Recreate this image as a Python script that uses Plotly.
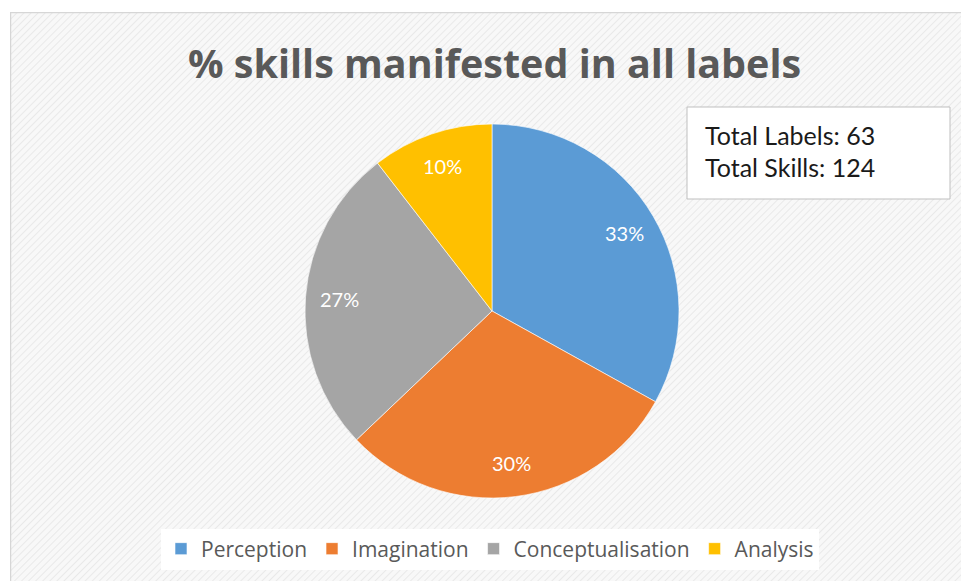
import base64
import math
import plotly.graph_objects as go

categories = ["Perception", "Imagination", "Conceptualisation", "Analysis"]
skill_counts = [41, 37, 33, 13]
colors = ["#5B9BD5", "#ED7D31", "#A5A5A5", "#FFC000"]
info_lines = ["Total Labels: 63", "Total Skills: 124"]
title_text = "% skills manifested in all labels"

W, H = 961, 581
ML, MT = 10, 12
PW, PH = W - ML, H - MT

# hatched chart-area background (decoration) as an inline SVG image
svg = f'''<svg xmlns="http://www.w3.org/2000/svg" width="{PW}" height="{PH}">
<defs><pattern id="p" width="5" height="5" patternUnits="userSpaceOnUse" patternTransform="rotate(45)">
<rect width="5" height="5" fill="#f8f8f8"/><line x1="0" y1="0" x2="0" y2="5" stroke="#e9e9e9" stroke-width="2"/></pattern></defs>
<rect width="{PW}" height="{PH}" fill="url(#p)"/>
<line x1="0" y1="0.5" x2="{PW}" y2="0.5" stroke="#d6d6d6" stroke-width="1.5"/>
<line x1="0.5" y1="0" x2="0.5" y2="{PH}" stroke="#d6d6d6" stroke-width="1.5"/>
</svg>'''
src = "data:image/svg+xml;base64," + base64.b64encode(svg.encode()).decode()

def fx(px):
    return (px - ML) / PW

def fy(py):
    return (H - py) / PH

cx, cy, r = 492, 311, 187

fig = go.Figure()
fig.add_trace(go.Pie(
    labels=categories,
    values=skill_counts,
    sort=False,
    direction="clockwise",
    rotation=0,
    marker=dict(colors=colors, line=dict(color="white", width=0.6)),
    textinfo="none",
    domain=dict(x=[fx(cx - r), fx(cx + r)], y=[fy(cy + r), fy(cy - r)]),
    hoverinfo="label+value+percent",
))

# percentage data labels placed along each slice's bisector (derived from values)
total = sum(skill_counts)
cum = 0
for v in skill_counts:
    mid = (cum + v / 2) / total * 2 * math.pi
    cum += v
    rr = 0.82 * r
    px = cx + rr * math.sin(mid)
    py = cy - rr * math.cos(mid)
    fig.add_annotation(text=f"{round(100 * v / total)}%", xref="paper", yref="paper",
                       x=fx(px), y=fy(py), xanchor="center", yanchor="middle",
                       showarrow=False, font=dict(family="Lato", size=20, color="white"))

fig.add_layout_image(dict(
    source=src, xref="paper", yref="paper", x=0, y=1, sizex=1, sizey=1,
    xanchor="left", yanchor="top", sizing="stretch", layer="below",
))

# text box
fig.add_shape(type="rect", xref="paper", yref="paper",
              x0=fx(687), x1=fx(950), y0=fy(199), y1=fy(107),
              line=dict(color="#bfbfbf", width=1), fillcolor="white", layer="above")
for i, line in enumerate(info_lines):
    fig.add_annotation(text=line, xref="paper", yref="paper",
                       x=fx(703), y=fy(135 + 32 * i), xanchor="left", yanchor="middle",
                       showarrow=False, font=dict(family="Lato", size=25, color="#1a1a1a"))

fig.add_annotation(text="<b>" + title_text + "</b>", xref="paper", yref="paper",
                   x=fx(494), y=fy(63), xanchor="center", yanchor="middle",
                   showarrow=False, font=dict(family="Open Sans", size=39.5, color="#595959"))

fig.update_layout(
    width=W, height=H,
    margin=dict(l=ML, r=0, t=MT, b=0),
    paper_bgcolor="white",
    plot_bgcolor="rgba(0,0,0,0)",
    showlegend=True,
    legend=dict(orientation="h", x=fx(490), y=fy(549), xanchor="center", yanchor="middle",
                bgcolor="white", borderwidth=0,
                font=dict(family="Open Sans", size=21, color="#595959")),
)

fig.write_html("out.html")
